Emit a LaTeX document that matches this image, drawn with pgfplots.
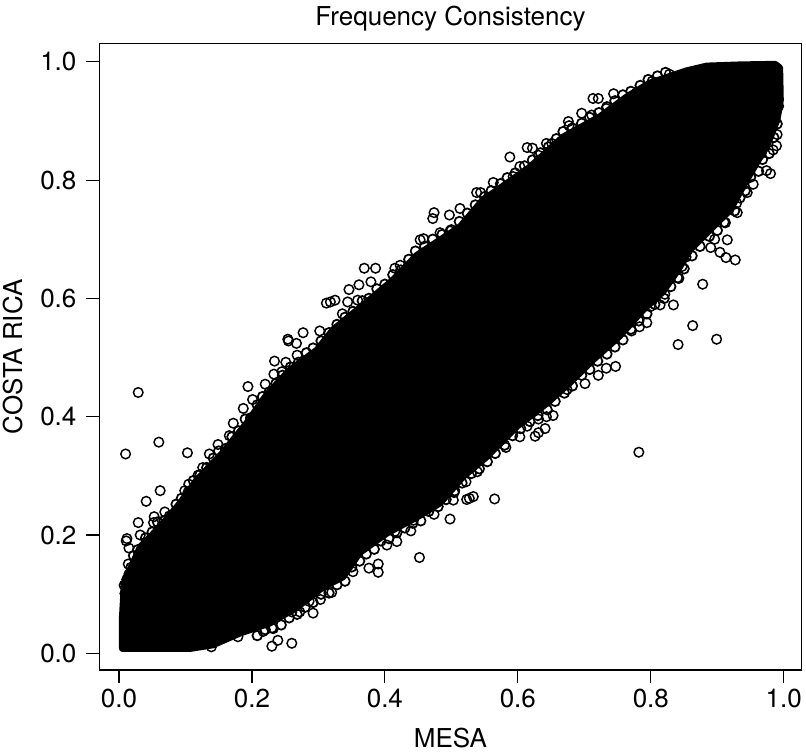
\documentclass[border=0pt]{standalone}
\usepackage{fontspec}
\setmainfont{TeX Gyre Heros}
\usepackage{pgfplots}
\pgfplotsset{compat=1.18}

\begin{document}
\begin{tikzpicture}
\begin{axis}[
    scale only axis,
    width=526.5pt, height=469.9pt,
    xmin=-0.0293, xmax=1.0266,
    ymin=-0.0282, ymax=1.031,
    xtick={0,0.2,0.4,0.6,0.8,1}, ytick={0,0.2,0.4,0.6,0.8,1},
    xtick pos=left, ytick pos=left,
    tick align=outside, major tick length=9.75pt,
    axis line style={line width=0.9pt},
    every tick/.style={black, line width=0.9pt},
    /pgf/number format/assume math mode=true,
    /pgf/number format/fixed, /pgf/number format/fixed zerofill, /pgf/number format/precision=1,
    tick label style={font=\fontsize{19.5}{22}\selectfont},
    xticklabel style={yshift=-1pt},
    yticklabel style={xshift=-4pt},
    label style={font=\fontsize{19.5}{22}\selectfont},
    title style={font=\fontsize{19.5}{22}\selectfont},
    title={Frequency Consistency},
    xlabel={MESA}, ylabel={COSTA RICA},
    xlabel shift=8pt, ylabel shift=6pt,
    clip=false,
]
% solid mass of overlapping points
\addplot[fill=black, draw=black, line width=5pt, line join=round] coordinates {
(0.005,0.008)(0.005,0.061)(0.008,0.119)(0.032,0.180)(0.062,0.214)(0.092,0.254)(0.117,0.293)
(0.156,0.339)(0.192,0.389)(0.222,0.437)(0.257,0.479)(0.298,0.513)(0.322,0.547)(0.373,0.594)
(0.412,0.631)(0.448,0.673)(0.483,0.699)(0.513,0.721)(0.547,0.766)(0.584,0.795)(0.618,0.822)
(0.668,0.873)(0.723,0.907)(0.764,0.941)(0.798,0.964)(0.854,0.985)(0.884,0.993)(0.934,0.995)
(0.987,0.996)(0.994,0.990)(0.995,0.935)(0.990,0.902)(0.974,0.856)(0.959,0.829)(0.938,0.788)
(0.919,0.749)(0.889,0.716)(0.859,0.682)(0.839,0.645)(0.818,0.611)(0.788,0.580)(0.753,0.536)
(0.713,0.496)(0.678,0.457)(0.644,0.423)(0.598,0.383)(0.553,0.332)(0.517,0.298)(0.483,0.254)
(0.448,0.230)(0.403,0.203)(0.362,0.170)(0.337,0.129)(0.307,0.112)(0.268,0.078)(0.227,0.051)
(0.182,0.034)(0.141,0.014)(0.107,0.008)
} -- cycle;
% points packed along the edge of the mass
\addplot[only marks, mark=o, mark size=3.6pt, line width=1.3pt, black] coordinates {
(0.008,0.115)(0.012,0.125)(0.018,0.145)(0.022,0.165)(0.028,0.175)
(0.040,0.195)(0.050,0.205)(0.058,0.222)(0.068,0.224)(0.076,0.232)(0.086,0.252)(0.094,0.262)
(0.104,0.272)(0.112,0.292)(0.122,0.302)(0.132,0.314)(0.142,0.330)(0.150,0.342)(0.160,0.346)
(0.170,0.366)(0.180,0.376)(0.190,0.396)(0.198,0.398)(0.208,0.420)(0.216,0.434)(0.226,0.442)
(0.236,0.456)(0.246,0.470)(0.258,0.484)(0.270,0.492)(0.282,0.508)(0.292,0.516)(0.304,0.528)
(0.316,0.542)(0.328,0.556)(0.340,0.568)(0.352,0.578)(0.366,0.596)(0.376,0.600)(0.388,0.616)
(0.400,0.624)(0.412,0.640)(0.424,0.648)(0.436,0.666)(0.446,0.680)(0.460,0.688)(0.472,0.700)
(0.486,0.708)(0.500,0.716)(0.512,0.730)(0.524,0.744)(0.536,0.758)(0.550,0.772)(0.560,0.782)
(0.574,0.794)(0.584,0.804)(0.596,0.812)(0.610,0.824)(0.622,0.834)(0.634,0.846)(0.646,0.856)
(0.658,0.870)(0.668,0.882)(0.682,0.888)(0.696,0.896)(0.708,0.906)(0.722,0.914)(0.734,0.924)
(0.746,0.934)(0.758,0.944)(0.770,0.950)(0.784,0.960)(0.796,0.970)(0.810,0.976)(0.822,0.982)
(0.992,0.925)(0.990,0.895)(0.985,0.872)(0.978,0.845)(0.968,0.835)(0.962,0.815)(0.950,0.805)
(0.942,0.782)(0.934,0.770)(0.926,0.748)(0.912,0.728)(0.900,0.715)(0.888,0.705)(0.874,0.688)
(0.862,0.672)(0.850,0.650)(0.842,0.634)(0.830,0.620)(0.820,0.600)(0.806,0.590)(0.794,0.574)
(0.782,0.562)(0.770,0.548)(0.758,0.530)(0.746,0.518)(0.734,0.506)(0.720,0.494)(0.708,0.480)
(0.696,0.470)(0.682,0.452)(0.670,0.440)(0.656,0.426)(0.644,0.412)(0.630,0.402)(0.618,0.392)
(0.604,0.380)(0.592,0.368)(0.580,0.352)(0.566,0.338)(0.554,0.324)(0.542,0.312)(0.530,0.304)
(0.516,0.288)(0.504,0.272)(0.492,0.260)(0.480,0.248)(0.466,0.240)(0.454,0.224)(0.442,0.220)
(0.430,0.212)(0.418,0.204)(0.406,0.194)(0.394,0.190)(0.384,0.176)(0.372,0.168)(0.362,0.156)
(0.350,0.146)(0.340,0.122)(0.328,0.116)(0.316,0.102)(0.304,0.100)(0.292,0.086)(0.280,0.078)
(0.268,0.066)(0.256,0.060)(0.244,0.048)(0.232,0.042)(0.220,0.040)(0.208,0.030)
};
% separate points along the edges
\addplot[only marks, mark=o, mark size=3.6pt, line width=1.1pt, black] coordinates {
(0.029,0.441)(0.010,0.337)(0.060,0.357)(0.103,0.339)(0.136,0.337)(0.149,0.353)(0.062,0.275)
(0.041,0.257)(0.029,0.221)(0.052,0.221)(0.053,0.231)(0.069,0.239)(0.032,0.200)(0.012,0.194)
(0.011,0.190)(0.015,0.178)(0.014,0.151)(0.015,0.134)(0.009,0.101)(0.105,0.286)(0.099,0.275)
(0.126,0.314)(0.119,0.301)(0.166,0.368)(0.172,0.389)(0.187,0.414)(0.201,0.429)(0.194,0.451)
(0.220,0.455)(0.234,0.494)(0.251,0.492)(0.233,0.472)(0.245,0.476)(0.268,0.504)(0.255,0.528)
(0.267,0.524)(0.260,0.017)(0.239,0.022)(0.230,0.012)(0.217,0.037)(0.230,0.043)(0.179,0.028)
(0.292,0.068)(0.320,0.103)(0.303,0.091)(0.286,0.088)(0.260,0.070)(0.272,0.070)(0.352,0.138)
(0.139,0.011)(0.369,0.651)(0.386,0.651)(0.379,0.628)(0.361,0.623)(0.346,0.615)(0.359,0.597)
(0.344,0.594)(0.336,0.574)(0.312,0.592)(0.318,0.594)(0.325,0.597)(0.277,0.542)(0.302,0.545)
(0.423,0.656)(0.415,0.651)(0.453,0.699)(0.254,0.531)(0.458,0.701)(0.483,0.711)(0.498,0.714)
(0.472,0.735)(0.474,0.745)(0.497,0.741)(0.513,0.752)(0.538,0.779)(0.544,0.779)(0.563,0.796)
(0.588,0.839)(0.603,0.823)(0.593,0.806)(0.614,0.855)(0.622,0.854)(0.643,0.862)(0.651,0.862)
(0.631,0.842)(0.676,0.899)(0.677,0.892)(0.696,0.913)(0.711,0.910)(0.713,0.938)(0.721,0.938)
(0.744,0.946)(0.733,0.921)(0.778,0.947)(0.802,0.967)(0.828,0.979)
(0.990,0.877)(0.989,0.858)(0.984,0.851)(0.966,0.845)(0.974,0.816)(0.980,0.811)(0.954,0.793)
(0.945,0.779)(0.930,0.745)(0.929,0.761)(0.910,0.729)(0.915,0.699)(0.896,0.700)(0.890,0.686)
(0.904,0.678)(0.913,0.669)(0.927,0.665)(0.878,0.624)(0.840,0.635)(0.847,0.654)(0.834,0.589)
(0.853,0.670)(0.814,0.589)(0.799,0.586)(0.821,0.607)(0.841,0.522)(0.863,0.554)(0.899,0.531)
(0.794,0.559)(0.771,0.545)(0.783,0.552)(0.782,0.340)(0.747,0.485)(0.733,0.482)(0.721,0.470)
(0.701,0.456)(0.674,0.446)(0.659,0.445)(0.653,0.402)(0.643,0.400)(0.631,0.396)(0.641,0.380)
(0.631,0.373)(0.626,0.367)(0.614,0.384)(0.603,0.366)(0.582,0.348)(0.565,0.261)(0.533,0.265)
(0.527,0.262)(0.523,0.260)(0.503,0.259)(0.498,0.227)(0.474,0.235)(0.539,0.307)(0.522,0.290)
(0.505,0.275)(0.443,0.225)(0.439,0.207)(0.415,0.206)(0.452,0.162)(0.390,0.151)(0.390,0.137)
(0.376,0.144)(0.418,0.189)(0.403,0.183)
};
\end{axis}
\pgfresetboundingbox
\path[use as bounding box] (-74.6pt,-63pt) rectangle (529.9pt,502.5pt);
\end{tikzpicture}
\end{document}
